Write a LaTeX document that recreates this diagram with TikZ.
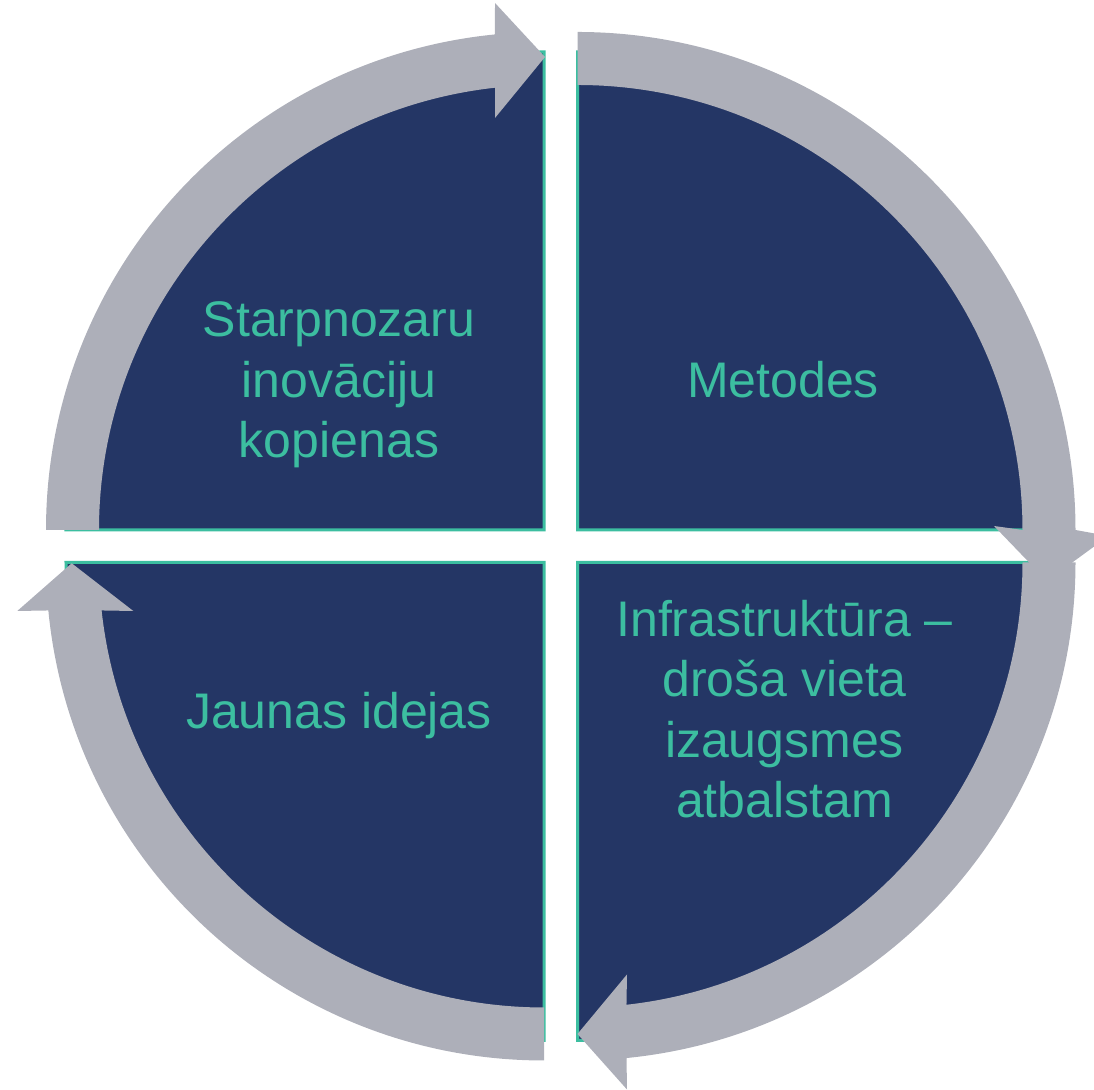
\documentclass[tikz,border=0pt]{standalone}
\usepackage{fontspec}
\setmainfont{Liberation Sans}
\usetikzlibrary{calc}
\definecolor{navy}{HTML}{243665}
\definecolor{tealc}{HTML}{3CBEA0}
\definecolor{ringc}{HTML}{ADAFB9}
\tikzset{
  sector/.style={fill=navy,draw=tealc,line width=1.5pt,line join=miter},
  ring/.style={fill=ringc},
  lbl/.style={text=tealc,align=center,anchor=base,font=\fontsize{25}{30.25}\selectfont,inner sep=0pt}
}
\begin{document}
\begin{tikzpicture}[x=0.5pt,y=0.5pt]
\useasboundingbox (0,0) rectangle (1094,1090);
\coordinate (TLc) at (544,560);
\coordinate (TRc) at (577.5,560);
\coordinate (BRc) at (577.5,527.5);
\coordinate (BLc) at (544,527.5);
% sectors
\filldraw[sector] (TLc) -- ++(180:478) arc[start angle=180,end angle=90,radius=478] -- cycle;
\filldraw[sector] (TRc) -- ++(90:478) arc[start angle=90,end angle=0,radius=478] -- cycle;
\filldraw[sector] (BRc) -- ++(0:478) arc[start angle=0,end angle=-90,radius=478] -- cycle;
\filldraw[sector] (BLc) -- ++(270:478) arc[start angle=270,end angle=180,radius=478] -- cycle;
% ring arrows
\fill[ring] ($(TLc)+(180:498)$) arc[start angle=180,end angle=95.65,radius=498]
  -- (495,1087) -- (545,1033) -- (495,972)
  -- ($(TLc)+(96.32:445)$) arc[start angle=96.32,end angle=180,radius=445] -- cycle;
\fill[ring] ($(TRc)+(90:498)$) arc[start angle=90,end angle=0,radius=498]
  -- (1108.5,554) -- (1047,509) -- (994,564)
  -- ($(TRc)+(0:445)$) arc[start angle=0,end angle=90,radius=445] -- cycle;
\fill[ring] ($(BRc)+(0:498)$) arc[start angle=0,end angle=-84.35,radius=498]
  -- (627,0.5) -- (577.5,56) -- (627,115.5)
  -- ($(BRc)+(-83.68:445)$) arc[start angle=-83.68,end angle=0,radius=445] -- cycle;
\fill[ring] ($(BLc)+(270:498)$) arc[start angle=270,end angle=185.53,radius=498]
  -- (17.3,479) -- (71.7,526.7) -- (133.3,479)
  -- ($(BLc)+(186.19:445)$) arc[start angle=186.19,end angle=270,radius=445] -- cycle;
% labels (base = baseline of last line)
\node[lbl] (t1) at (339,632) {Starpnozaru\\inovāciju\\kopienas};
\node[lbl] (t2) at (783,692) {Metodes};
\node[lbl] (t3) at (784.5,272) {Infrastruktūra –\\droša vieta\\izaugsmes\\atbalstam};
\node[lbl] (t4) at (339,361) {Jaunas idejas};
\end{tikzpicture}
\end{document}
